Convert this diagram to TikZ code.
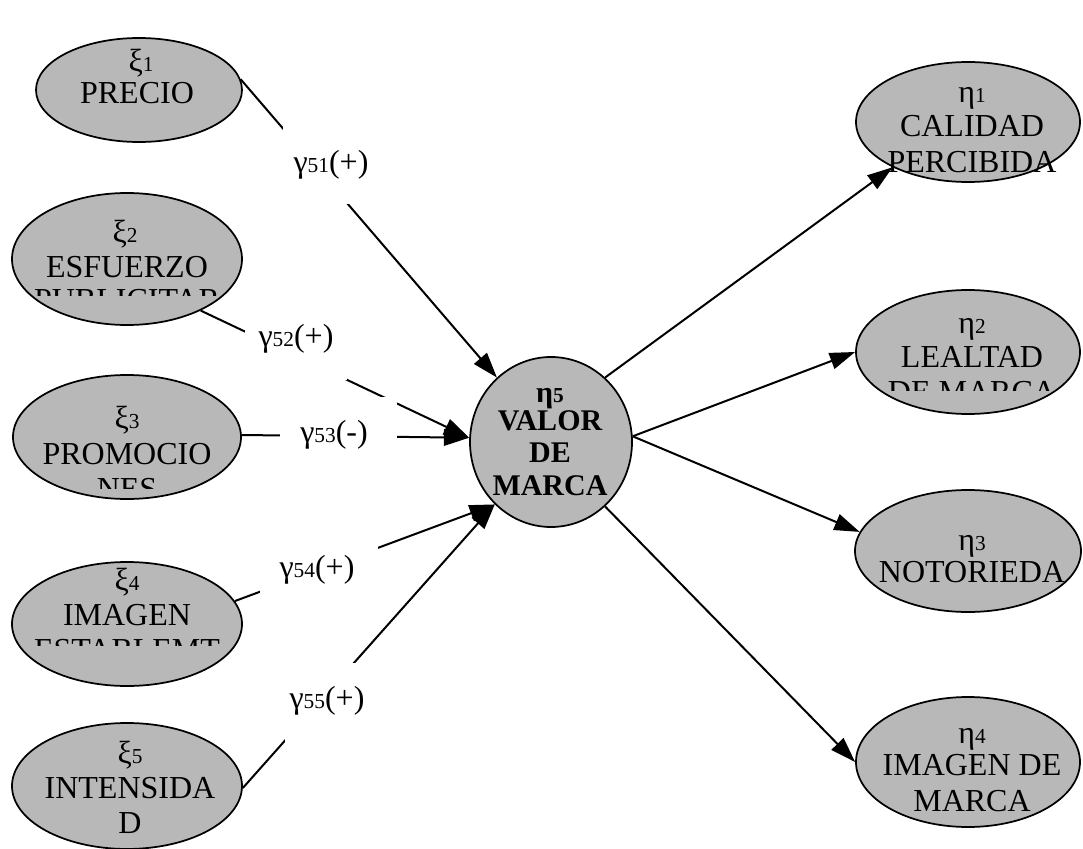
\documentclass[tikz,border=0pt]{standalone}
\usepackage{fontspec}
\setmainfont{Liberation Serif}
\usetikzlibrary{arrows.meta,shapes.geometric}
\definecolor{ellgray}{RGB}{184,184,184}
\newcommand\lowidx[1]{{\fontsize{16}{16}\selectfont #1}}

\begin{document}
\begin{tikzpicture}[x=0.75pt,y=-0.75pt,
  ell/.style 2 args={ellipse, draw=black, line width=1.3pt, fill=ellgray,
    inner sep=0pt, minimum width=#1*1.5pt, minimum height=#2*1.5pt},
  txt/.style={anchor=base, inner sep=0pt, font=\fontsize{24}{26}\selectfont},
  btxt/.style={txt, font=\fontsize{22.5}{25}\selectfont\bfseries},
  conn/.style={line width=1.5pt, -{Triangle[length=19pt,width=12.5pt]}},
  mask/.style={fill=white}]
\useasboundingbox (0,0) rectangle (1083,849);

% exogenous constructs
\node[ell={103}{52}] (x1) at (139,90) {};
\node[ell={115}{66}] (x2) at (127,259) {};
\node[ell={114}{62}] (x3) at (127,437) {};
\node[ell={115}{62}] (x4) at (127,624) {};
\node[ell={115}{63}] (x5) at (127,786) {};
% central construct
\node[ell={81}{85}] (h5) at (551,442) {};
% endogenous constructs
\node[ell={112}{60}] (h1) at (968,122) {};
\node[ell={112}{62}] (h2) at (968,352) {};
\node[ell={113}{61}] (h3) at (968,551) {};
\node[ell={112}{65}] (h4) at (968,762) {};

% paths into the brand value construct
\draw[conn] (x1.6) -- (h5.130);
\draw[conn] (x2.-35) -- (h5.177);
\draw[conn] (x3.1) -- (h5.177);
\draw[conn] (x4.12) -- (h5.228);
\draw[conn] (x5.-1) -- (h5.228);
% paths out of it
\draw[conn] (h5.50) -- (h1.211);
\draw[conn] (h5.4) -- (h2.180);
\draw[conn] (h5.4) -- (h3.170);
\draw[conn] (h5.-50) -- (h4.180);

% white boxes behind the coefficient labels
\fill[mask] (283,115) rectangle (385,204);
\fill[mask] (245,318) rectangle (347,380);
\fill[mask] (280,397) rectangle (397,470);
\fill[mask] (260,540) rectangle (378,598);
\fill[mask] (285,663) rectangle (385,745);

% coefficient labels
\node[txt] (g51) at (331,172) {γ\lowidx{51}(+)};
\node[txt] (g52) at (296,346) {γ\lowidx{52}(+)};
\node[txt] (g53) at (334,442) {γ\lowidx{53}(-)};
\node[txt] (g54) at (317,577) {γ\lowidx{54}(+)};
\node[txt] (g55) at (327,708) {γ\lowidx{55}(+)};

% construct texts
\node[txt] (x1a) at (141,72) {ξ\lowidx{1}};
\node[txt] (x1b) at (137,104) {PRECIO};

\node[txt] (x2a) at (125,242) {ξ\lowidx{2}};
\node[txt] (x2b) at (127,277) {ESFUERZO};
\begin{scope}
  \clip (0,0) rectangle (1083,295);
  \node[txt] (x2c) at (127,310) {PUBLICITAR};
\end{scope}

\node[txt] (x3a) at (127,428) {ξ\lowidx{3}};
\node[txt] (x3b) at (127,464) {PROMOCIO};
\begin{scope}
  \clip (0,0) rectangle (1083,488);
  \node[txt] (x3c) at (127,499) {NES};
\end{scope}

\node[txt] (x4a) at (127,590) {ξ\lowidx{4}};
\node[txt] (x4b) at (127,625) {IMAGEN};
\begin{scope}
  \clip (0,0) rectangle (1083,645);
  \node[txt] (x4c) at (127,660) {ESTABLEMT};
\end{scope}

\node[txt] (x5a) at (130,763) {ξ\lowidx{5}};
\node[txt] (x5b) at (130,798) {INTENSIDA};
\node[txt] (x5c) at (130,833) {D};

\node[btxt] (h5a) at (550,402) {η\lowidx{5}};
\node[btxt] (h5b) at (550,430) {VALOR};
\node[btxt] (h5c) at (550,462) {DE};
\node[btxt] (h5d) at (550,495) {MARCA};

\node[txt] (h1a) at (972,103) {η\lowidx{1}};
\node[txt] (h1b) at (972,137) {CALIDAD};
\node[txt] (h1c) at (972,172) {PERCIBIDA};

\node[txt] (h2a) at (972,333) {η\lowidx{2}};
\node[txt] (h2b) at (972,367) {LEALTAD};
\begin{scope}
  \clip (0,0) rectangle (1083,390);
  \node[txt] (h2c) at (972,402) {DE MARCA};
\end{scope}

\node[txt] (h3a) at (972,550) {η\lowidx{3}};
\node[txt] (h3b) at (972,582) {NOTORIEDA};

\node[txt] (h4a) at (972,743) {η\lowidx{4}};
\node[txt] (h4b) at (972,775) {IMAGEN DE};
\node[txt] (h4c) at (972,811) {MARCA};
\end{tikzpicture}
\end{document}
